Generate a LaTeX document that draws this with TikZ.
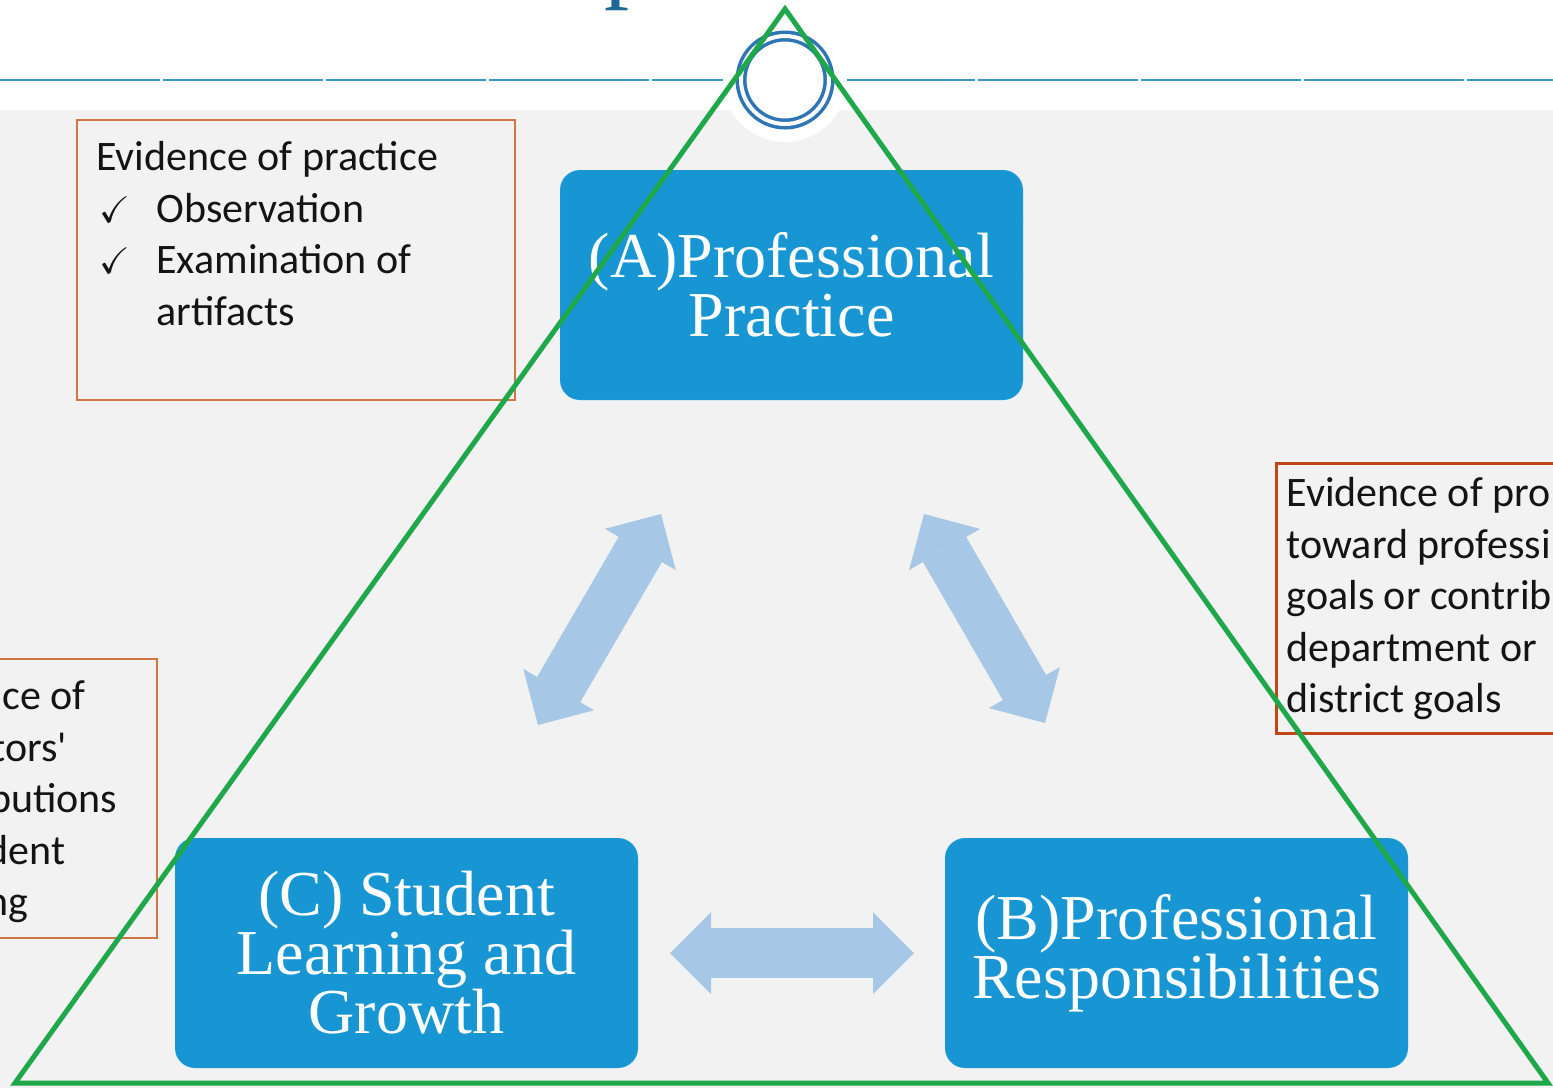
\documentclass[tikz,border=0pt]{standalone}
\usepackage{fontspec}
\usepackage{amssymb}
\setmainfont{Liberation Serif}
\newfontfamily\calibri{Carlito}
\usetikzlibrary{arrows.meta}

\definecolor{boxblue}{RGB}{24,150,212}
\definecolor{arrowblue}{RGB}{166,200,230}
\definecolor{panelgrey}{RGB}{242,242,242}
\definecolor{ringblue}{RGB}{46,117,182}
\definecolor{rulecyan}{RGB}{62,150,200}
\definecolor{trigreen}{RGB}{30,168,74}
\definecolor{evorange}{RGB}{208,118,66}
\definecolor{evred}{RGB}{192,70,24}
\definecolor{titleblue}{RGB}{28,105,150}

\tikzset{partbox/.style={fill=boxblue, draw=boxblue!55!white, densely dotted,
                         rounded corners=20pt, minimum width=463pt, minimum height=230pt,
                         inner sep=0pt, text=white, align=center,
                         font=\fontsize{64}{59}\selectfont}}
\tikzset{evbox/.style={draw=evorange, line width=1.5pt, inner sep=0pt}}
\tikzset{evtext/.style={anchor=north west, inner sep=0pt, align=left, text=black!92,
                        font=\calibri\fontsize{42}{51.5}\selectfont}}
\tikzset{linkarrow/.style={draw=arrowblue, line width=50pt,
                           {Triangle[length=41pt,width=82pt,line width=0pt]}-{Triangle[length=41pt,width=82pt,line width=0pt]}}}
\newcommand{\tick}{\makebox[60pt][l]{\hspace*{3pt}\fontsize{37}{37}\selectfont$\checkmark$}}

\begin{document}
\begin{tikzpicture}[x=1pt, y=-1pt]
    \useasboundingbox (0,0) rectangle (1553,1088);
    \clip (0,0) rectangle (1553,1088);
    \fill[white] (0,0) rectangle (1553,110);
    \fill[panelgrey] (0,110) rectangle (1553,1088);

    % title and rule
    \node[anchor=base west, inner sep=0pt, text=titleblue, font=\fontsize{100}{100}\selectfont] (title) at (604,-11) {p};
    \draw[rulecyan, line width=2pt, dash pattern=on 160pt off 3pt] (0,80) -- (1553,80);

    % ring at the top
    \node[circle, fill=white, minimum size=124pt] (halo) at (785,80) {};
    \node[circle, draw=ringblue, line width=3.5pt, double=white, double distance=4pt, minimum size=88pt] (ring) at (785,80) {};

    % evidence boxes
    \node[evbox, minimum width=438pt, minimum height=280pt] (evpractice) at (296,260) {};
    \node[evtext] (evpracticetxt) at ([shift={(20,22)}]evpractice.north west)
        {Evidence of practice\\
         \tick Observation\\
         \tick Examination of\\
         \hspace*{60pt}artifacts};

    \node[evbox, minimum width=287pt, minimum height=279pt] (evlearning) at (13.5,798.5) {};
    \node[evtext] (evlearningtxt) at ([shift={(20,22)}]evlearning.north west)
        {Evidence of\\
         educators'\\
         contributions\\
         to student\\
         learning};

    \node[evbox, draw=evred, line width=3pt, minimum width=404pt, minimum height=270pt] (evgoals) at (1478,598) {};
    \node[evtext] (evgoalstxt) at ([shift={(12,16)}]evgoals.north west)
        {Evidence of pro\\
         toward professi\\
         goals or contrib\\
         department or\\
         district goals};

    % the three parts
    \node[partbox] (practice) at (791.5,285) {(A)Professional\\Practice};
    \node[partbox] (learning) at (406.5,953) {(C) Student\\Learning and\\Growth};
    \node[partbox] (duties) at (1176.5,953) {(B)Professional\\Responsibilities};

    % arrows between the parts
    \coordinate (ac1) at (538,725);
    \coordinate (ac2) at (661,514);
    \coordinate (ab1) at (924,514);
    \coordinate (ab2) at (1045,723);
    \coordinate (cb1) at (670,953);
    \coordinate (cb2) at (914,953);
    \draw[linkarrow] (ac1) -- (ac2);
    \draw[linkarrow] (ab1) -- (ab2);
    \draw[linkarrow] (cb1) -- (cb2);

    % triangle
    \coordinate (apex) at (785,9);
    \coordinate (cornerl) at (15,1083);
    \coordinate (cornerr) at (1548,1083);
    \draw[trigreen, line width=5pt] (apex) -- (cornerl) -- (cornerr) -- cycle;
\end{tikzpicture}
\end{document}
